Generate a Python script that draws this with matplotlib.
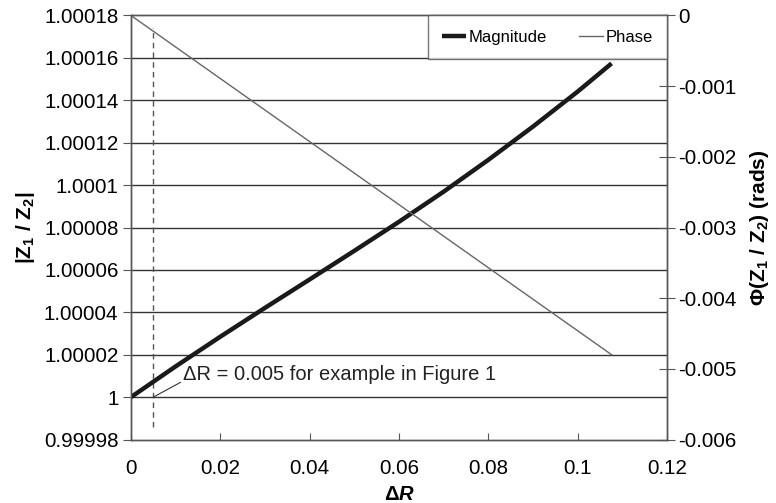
import matplotlib
matplotlib.use("Agg")
import matplotlib.pyplot as plt

plt.rcParams["font.family"] = ["Liberation Sans", "DejaVu Sans"]
plt.rcParams["mathtext.fontset"] = "custom"
plt.rcParams["mathtext.rm"] = "Liberation Sans"
plt.rcParams["mathtext.it"] = "Liberation Sans:italic"
plt.rcParams["mathtext.bf"] = "Liberation Sans:bold"
plt.rcParams["mathtext.bfit"] = "Liberation Sans:bold:italic"

# magnitude |Z1/Z2| vs delta R
mag_dr = [0, 0.01, 0.02, 0.03, 0.04, 0.05, 0.06, 0.07, 0.08, 0.09, 0.1, 0.1076]
mag_val = [1.0, 1.0000145, 1.0000285, 1.0000421, 1.0000555, 1.000069, 1.0000827,
           1.0000969, 1.0001119, 1.0001276, 1.0001441, 1.0001574]

# phase (rads) vs delta R
phase_dr = [0, 0.1076]
phase_val = [0.0, -0.0048]

example_dr = 0.005
example_span = (0.999986, 1.000174)

left_ticks = [0.99998, 1.0, 1.00002, 1.00004, 1.00006, 1.00008, 1.0001,
              1.00012, 1.00014, 1.00016, 1.00018]
left_labels = ["0.99998", "1", "1.00002", "1.00004", "1.00006", "1.00008",
               "1.0001", "1.00012", "1.00014", "1.00016", "1.00018"]
right_ticks = [-0.006, -0.005, -0.004, -0.003, -0.002, -0.001, 0]
right_labels = ["-0.006", "-0.005", "-0.004", "-0.003", "-0.002", "-0.001", "0"]
x_ticks = [0, 0.02, 0.04, 0.06, 0.08, 0.1, 0.12]
x_labels = ["0", "0.02", "0.04", "0.06", "0.08", "0.1", "0.12"]

fig = plt.figure(figsize=(7.76, 5.03), dpi=100)
ax = fig.add_axes([0.1688, 0.1262, 0.8595 - 0.1688, 0.9692 - 0.1262])
ax2 = ax.twinx()

ax.set_xlim(0, 0.12)
ax.set_ylim(0.99998, 1.00018)
ax2.set_ylim(-0.006, 0)

for y in left_ticks[1:-1]:
    ax.axhline(y, color="#333333", lw=1, zorder=1)

ax.vlines(example_dr, *example_span, colors="#555555", linestyles=(0, (4, 3)), lw=1, zorder=2)

l1, = ax.plot(mag_dr, mag_val, color="#1a1a1a", lw=3.2, solid_capstyle="butt",
              solid_joinstyle="round", zorder=3, label="Magnitude")
l2, = ax2.plot(phase_dr, phase_val, color="#666666", lw=1, label="Phase")

ax.annotate("\u0394R = 0.005 for example in Figure 1", xy=(example_dr, 1.0),
            xytext=(0.0117, 1.0000108), ha="left", va="center", fontsize=14.5,
            color="#222222",
            arrowprops=dict(arrowstyle="-", color="#333333", lw=0.8,
                            shrinkA=0, shrinkB=0, relpos=(0, 0.15)))

ax.set_yticks(left_ticks)
ax.set_yticklabels(left_labels)
ax.set_xticks(x_ticks)
ax.set_xticklabels(x_labels)
ax2.set_yticks(right_ticks)
ax2.set_yticklabels(right_labels)

ax.tick_params(axis="y", direction="out", length=6, labelsize=14.8, color="#555555", pad=3)
ax.tick_params(axis="x", direction="in", length=5, labelsize=14.8, color="#555555", pad=14)
ax2.tick_params(axis="y", direction="inout", length=12, labelsize=14.8, color="#555555", pad=2)

for a in (ax, ax2):
    for s in a.spines.values():
        s.set_color("#555555")
        s.set_linewidth(1)

ax.set_xlabel(r"$\mathbf{\Delta}\mathbfit{R}$", fontsize=14.5, labelpad=5)
ax.set_ylabel(r"$\mathbf{|Z_1\ /\ Z_2|}$", fontsize=15, labelpad=5)
ax2.set_ylabel(r"$\mathbf{\Phi(Z_1\ /\ Z_2)\ (rads)}$", fontsize=15, labelpad=8)

leg = ax2.legend([l1, l2], ["Magnitude", "Phase"], loc="upper right", ncol=2,
                 fontsize=12, frameon=True, fancybox=False, borderaxespad=0,
                 handlelength=1.45, handletextpad=0.15, columnspacing=1.9,
                 borderpad=0.85)
leg.get_frame().set_edgecolor("#555555")
leg.get_frame().set_linewidth(1)

fig.savefig("out.png", dpi=100)
